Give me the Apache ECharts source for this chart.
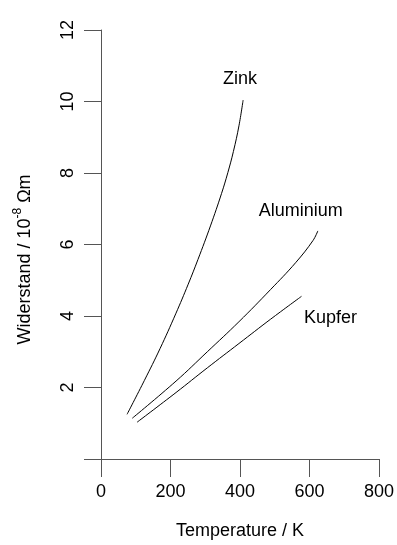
<!DOCTYPE html>
<html><head><meta charset="utf-8">
<script src="https://cdn.jsdelivr.net/npm/echarts@6/dist/echarts.min.js"></script>
<style>html,body{margin:0;padding:0;background:#fff}#c{width:397px;height:545px}</style>
</head><body><div id="c"></div>
<script>
const xTicks = [0, 200, 400, 600, 800];
const yTicks = [0, 2, 4, 6, 8, 10, 12];
const seriesNames = ['Zink', 'Aluminium', 'Kupfer'];
const zinkT = [75, 125, 170, 215, 251, 279, 315, 347, 365, 381, 397, 409];
const zinkR = [1.25, 2.2, 3.09, 4.06, 4.89, 5.58, 6.52, 7.43, 8.01, 8.6, 9.32, 10.04];
const aluT = [90, 216, 306, 397, 488, 560, 610, 624];
const aluR = [1.14, 2.18, 3.0, 3.84, 4.74, 5.49, 6.11, 6.38];
const kupT = [104, 216, 306, 397, 488, 577];
const kupR = [1.03, 1.86, 2.55, 3.23, 3.91, 4.55];

const FONT = 'Liberation Sans, Arial, Helvetica, sans-serif';
const axisColor = '#555';

function endMark(name, T, R, position, offset) {
  const n = T.length - 1;
  return {
    symbol: 'circle', symbolSize: 0, silent: true,
    data: [{ coord: [T[n], R[n]], symbolSize: 0,
      label: { show: true, position, offset, distance: 5, formatter: name,
        color: '#000', fontFamily: FONT, fontSize: 18 } }]
  };
}
function line(name, T, R, position, offset) {
  return { name, type: 'line', smooth: 0.4, showSymbol: false, symbol: 'none',
    lineStyle: { color: '#000', width: 1 },
    data: T.map((t, i) => [t, R[i]]),
    markPoint: endMark(name, T, R, position, offset) };
}

const chart = echarts.init(document.getElementById('c'), null, { renderer: 'canvas' });
chart.setOption({
  animation: false,
  backgroundColor: '#fff',
  grid: { left: 101, right: 2, top: 30, bottom: 75, containLabel: false },
  xAxis: {
    type: 'value', min: xTicks[0], max: xTicks[xTicks.length - 1], interval: 200,
    name: 'Temperature / K', nameLocation: 'middle', nameGap: 63,
    nameTextStyle: { color: '#000', fontFamily: FONT, fontSize: 18 },
    axisLine: { show: true, lineStyle: { color: axisColor, width: 1 } },
    axisTick: { show: true, length: 18, lineStyle: { color: axisColor } },
    axisLabel: { color: '#000', fontFamily: FONT, fontSize: 18, margin: 24 },
    splitLine: { show: false }
  },
  yAxis: {
    type: 'value', min: yTicks[0], max: yTicks[yTicks.length - 1], interval: 2,
    name: '{a|Widerstand / 10}{s|-8}{a| Ωm}', nameLocation: 'middle', nameGap: 67,
    nameRotate: 90,
    nameTextStyle: {
      color: '#000', fontFamily: FONT, fontSize: 18, padding: [0, 30, 0, 0],
      rich: {
        a: { fontFamily: FONT, fontSize: 18, color: '#000', lineHeight: 22, verticalAlign: 'bottom' },
        s: { fontFamily: FONT, fontSize: 12, color: '#000', lineHeight: 22, verticalAlign: 'top' }
      }
    },
    axisLine: { show: true, lineStyle: { color: axisColor, width: 1 } },
    axisTick: { show: true, length: 17, lineStyle: { color: axisColor } },
    axisLabel: { color: '#000', fontFamily: FONT, fontSize: 18, margin: 24, rotate: 90,
      formatter: v => (v === 0 ? '' : String(v)) },
    splitLine: { show: false }
  },
  series: [
    line(seriesNames[0], zinkT, zinkR, 'top', [-3, -7]),
    line(seriesNames[1], aluT, aluR, 'top', [-17, -6]),
    line(seriesNames[2], kupT, kupR, 'bottom', [29, 8])
  ]
});
</script></body></html>
